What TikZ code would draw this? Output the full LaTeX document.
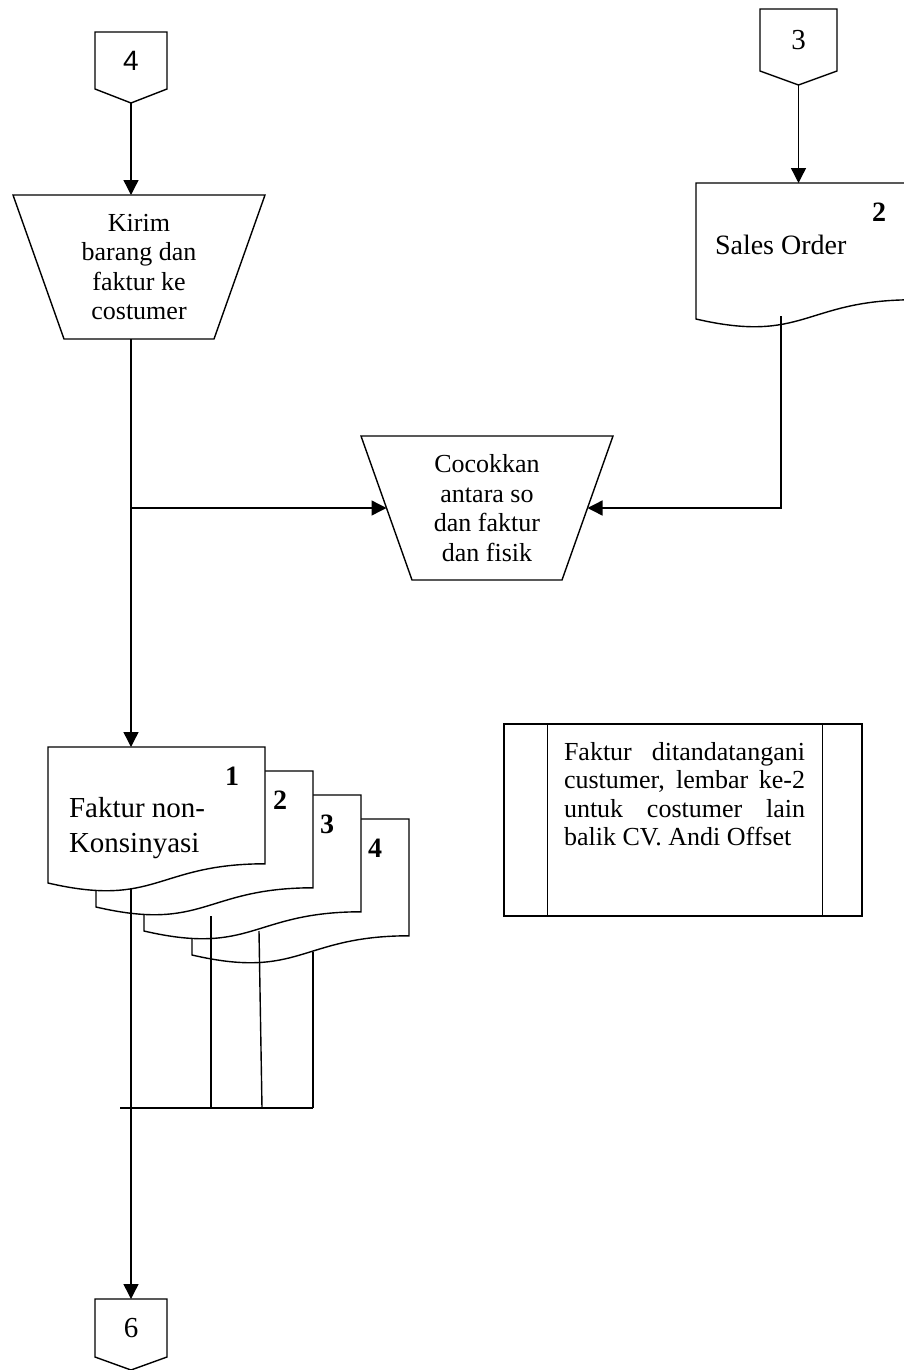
\documentclass[tikz,border=0pt]{standalone}
\usepackage{fontspec}
\setmainfont{Liberation Serif}
\newfontfamily\sansfont{Liberation Sans}
\usetikzlibrary{arrows.meta,calc}
\begin{document}
\begin{tikzpicture}[x=1pt,y=-1pt,line width=1.4pt,
  arr/.style={-{Triangle[length=15pt,width=15pt]}},
  txt/.style={font=\fontsize{26}{29.5}\selectfont,align=center,inner sep=0pt,outer sep=0pt},
  trapbox/.style={txt,minimum width=252pt,minimum height=144pt},
  connbox/.style={inner sep=0pt,outer sep=0pt,minimum width=72pt,font=\fontsize{29}{30}\selectfont},
  num/.style={font=\fontsize{28}{30}\selectfont\bfseries,inner sep=0pt,anchor=base},
  doclabel/.style={inner sep=0pt,outer sep=0pt,align=left},
  docpic/.pic={
    \draw[fill=white] (0,0) -- (217,0) -- (217,116.8)
      .. controls (108.5,116.8) and (108.5,161.2) .. (0,136) -- cycle;
    \coordinate (-nw) at (0,0);
  }
]
\useasboundingbox (0,0) rectangle (903,1370);

% off-page connectors
\node[connbox,minimum height=57pt,font=\fontsize{28}{30}\sansfont] (c4) at (131,60.5) {4};
\draw (c4.north west) -- (c4.north east) -- (c4.south east) -- ($(c4.south)+(0,14)$) coordinate (c4p) -- (c4.south west) -- cycle;

\node[connbox,minimum width=77pt,minimum height=62pt] (c3) at (798.5,40) {3};
\draw (c3.north west) -- (c3.north east) -- (c3.south east) -- ($(c3.south)+(0,14)$) coordinate (c3p) -- (c3.south west) -- cycle;

\node[connbox,minimum height=58pt] (c6) at (131,1328) {6};
\draw (c6.north west) -- (c6.north east) -- (c6.south east) -- ($(c6.south)+(0,13)$) -- (c6.south west) -- cycle;

% manual operations
\node[trapbox] (kirim) at (139,267) {Kirim\\barang dan\\faktur ke\\costumer};
\draw (kirim.north west) -- (kirim.north east) -- ([xshift=-51pt]kirim.south east) -- ([xshift=51pt]kirim.south west) -- cycle;

\node[trapbox] (cocok) at (487,508) {Cocokkan\\antara so\\dan faktur\\dan fisik};
\draw (cocok.north west) -- (cocok.north east) -- ([xshift=-51pt]cocok.south east) -- ([xshift=51pt]cocok.south west) -- cycle;

% sales order document
\pic (so) at (696,183) {docpic};
\node[num] (so2) at (879,221) {2};
\node[doclabel,font=\fontsize{28}{30}\selectfont,anchor=base west] (sotxt) at (715,254) {Sales Order};
\coordinate (soout) at (781,316);

% document stack (back to front)
\pic (d4) at (192,819) {docpic};
\pic (d3) at (144,795) {docpic};
\pic (d2) at (96,771) {docpic};
\pic (d1) at (48,747) {docpic};
\node[num] (n1) at (232,785) {1};
\node[num] (n2) at (280,809) {2};
\node[num] (n3) at (327,833) {3};
\node[num] (n4) at (375,857) {4};
\node[doclabel,font=\fontsize{29}{35.5}\selectfont,anchor=north west] (d1txt) at (69,797) {Faktur non-\\Konsinyasi};

% note (predefined process)
\node[draw,minimum width=358pt,minimum height=192pt,inner sep=0pt] (note) at (683,820) {};
\draw ([xshift=44pt]note.north west) -- ([xshift=44pt]note.south west);
\draw ([xshift=-40pt]note.north east) -- ([xshift=-40pt]note.south east);
\node[inner sep=0pt,outer sep=0pt,align=left,font=\fontsize{26}{28.5}\selectfont,anchor=north west] (notetxt) at (564,742)
  {\makebox[241pt][s]{Faktur ditandatangani}\\
   \makebox[241pt][s]{custumer, lembar ke-2}\\
   \makebox[241pt][s]{untuk costumer lain}\\
   balik CV. Andi Offset};

% connectors
\draw[arr] (c4p) -- (c4p |- kirim.north);
\draw[arr] (c3p) -- (c3p |- so-nw);
\draw[arr] (c4p |- kirim.south) -- (c4p |- d1-nw);
\draw[arr] (c4p |- cocok.west) -- ([xshift=25.5pt]cocok.west);
\draw[arr] (soout) |- ([xshift=-25.5pt]cocok.east);

% lines from invoice copies
\coordinate (l1) at (131,889);
\coordinate (l2) at (211,916);
\coordinate (l3) at (259,931);
\coordinate (l4) at (313,952);
\coordinate (hl) at (120,1108);
\coordinate (hr) at (313,1108);
\draw[arr] (l1) -- (c6.north);
\draw (hl) -- (hr);
\draw (l2) -- (l2 |- hl);
\draw (l3) -- (262,1108) coordinate (l3b);
\draw (l4) -- (hr);
\end{tikzpicture}
\end{document}
